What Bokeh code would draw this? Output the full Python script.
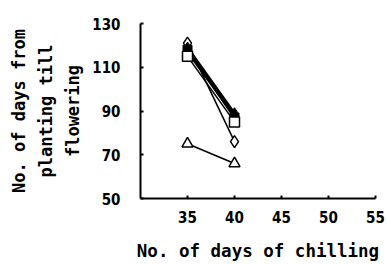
import math
from bokeh.plotting import figure
from bokeh.models import Range1d, FixedTicker
from bokeh.embed import file_html
from bokeh.resources import INLINE

days = [35, 40]
open_diamond = [121, 76]
filled_diamond = [119, 89]
filled_square = [118, 87]
filled_triangle = [117, 88]
open_square = [115, 85]
open_triangle = [75, 66]

x_ticks = [35, 40, 45, 50, 55]
y_ticks = [50, 70, 90, 110, 130]

p = figure(width=387, height=264, output_backend="svg", toolbar_location=None,
           x_range=Range1d(30, 55), y_range=Range1d(50, 130),
           min_border_left=140, min_border_right=12, min_border_top=23, min_border_bottom=66)
p.frame_width = 235
p.frame_height = 175
p.outline_line_color = None
p.grid.grid_line_color = None
p.background_fill_color = "white"

for ax in (p.xaxis[0], p.yaxis[0]):
    ax.axis_line_width = 2
    ax.axis_line_color = "black"
    ax.major_tick_in = 3
    ax.major_tick_out = 0
    ax.major_tick_line_width = 2
    ax.minor_tick_line_color = None
    ax.major_label_text_font = "DejaVu Sans Condensed"
    ax.major_label_text_font_style = "bold"
    ax.major_label_text_font_size = "15px"
    ax.major_label_text_color = "black"

p.xaxis.ticker = FixedTicker(ticks=x_ticks)
p.yaxis.ticker = FixedTicker(ticks=y_ticks)
p.xaxis.major_label_standoff = 12
p.yaxis.major_label_standoff = 20
p.xaxis.axis_label = "No. of days of chilling"
p.xaxis.axis_label_text_font = "DejaVu Sans Mono"
p.xaxis.axis_label_text_font_style = "bold"
p.xaxis.axis_label_text_font_size = "17.5px"
p.xaxis.axis_label_text_color = "black"
p.xaxis.axis_label_standoff = 15

p.yaxis.axis_label = "No. of days from\nplanting till\nflowering"
p.yaxis.axis_label_text_font = "DejaVu Sans Mono"
p.yaxis.axis_label_text_font_style = "bold"
p.yaxis.axis_label_text_font_size = "17px"
p.yaxis.axis_label_text_color = "black"
p.yaxis.axis_label_text_line_height = 1.35
p.yaxis.axis_label_text_align = "center"
p.yaxis.axis_label_standoff = 6

lw = 1.5
p.line(days, open_diamond, line_color="black", line_width=lw)
p.scatter(days, open_diamond, marker="diamond", size=12, fill_color="white", line_color="black", line_width=1.5)
p.line(days, filled_diamond, line_color="black", line_width=2.5)
p.scatter(days, filled_diamond, marker="diamond", size=11, fill_color="black", line_color="black")
p.line(days, filled_square, line_color="black", line_width=2.5)
p.scatter(days, filled_square, marker="square", size=9, fill_color="black", line_color="black")
p.line(days, filled_triangle, line_color="black", line_width=2.5)
p.scatter(days, filled_triangle, marker="triangle", size=10, fill_color="black", line_color="black")
p.line(days, open_square, line_color="black", line_width=lw)
p.scatter(days, open_square, marker="square", size=10, fill_color="white", line_color="black", line_width=1.5)
p.line(days, open_triangle, line_color="black", line_width=lw)
p.scatter(days, open_triangle, marker="triangle", size=11, fill_color="white", line_color="black", line_width=1.5)

open("out.html", "w").write(file_html(p, INLINE))
